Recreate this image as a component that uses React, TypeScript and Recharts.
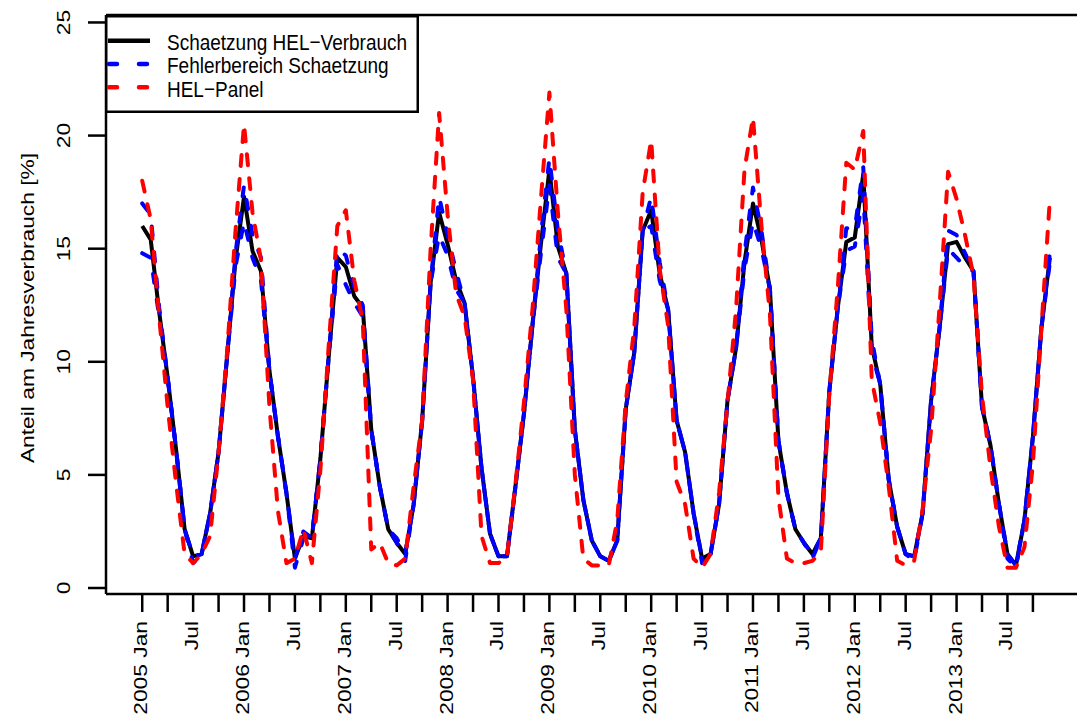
import React from "react";
import { LineChart, Line, XAxis, YAxis, ReferenceLine, Legend } from "recharts";

// Monthly shares of the annual consumption, Jan 2005 .. Dec 2013
const estimate = [
  16.0, 15.4, 12.2, 9.3, 6.1, 2.6, 1.4, 1.5, 3.3, 6.0, 10.2, 14.5,
  17.3, 14.9, 14.0, 9.6, 6.7, 4.2, 1.3, 2.3, 2.2, 5.7, 10.3, 14.6,
  14.2, 12.9, 12.4, 7.0, 4.5, 2.6, 2.0, 1.5, 3.7, 7.4, 13.5, 16.6,
  15.2, 13.6, 12.6, 9.3, 5.3, 2.4, 1.4, 1.4, 4.5, 7.7, 11.6, 15.2,
  18.5, 15.1, 13.9, 7.0, 3.9, 2.1, 1.4, 1.2, 2.1, 7.9, 10.4, 15.8,
  16.7, 13.9, 12.3, 7.4, 6.0, 3.3, 1.3, 1.5, 3.7, 8.3, 10.6, 14.4,
  17.0, 15.4, 13.2, 6.5, 4.2, 2.6, 2.0, 1.5, 2.2, 8.7, 12.4, 15.3,
  15.5, 18.3, 10.7, 9.0, 4.8, 2.7, 1.5, 1.4, 3.3, 8.3, 11.5, 15.2,
  15.3, 14.6, 14.0, 8.0, 6.3, 3.7, 1.5, 1.0, 3.0, 6.7, 11.5, 14.6,
];

const upperBound = [
  17.0, 16.5, 12.4, 9.3, 6.1, 2.6, 1.4, 1.5, 3.3, 6.0, 10.2, 14.8,
  17.8, 15.6, 14.6, 9.6, 6.7, 4.2, 1.3, 2.5, 2.2, 5.7, 10.3, 15.0,
  14.7, 13.3, 12.5, 7.0, 4.5, 2.6, 2.2, 1.5, 3.7, 7.4, 13.5, 17.3,
  15.6, 14.0, 12.6, 9.3, 5.3, 2.4, 1.4, 1.4, 4.5, 7.7, 11.6, 15.6,
  19.0, 15.8, 13.9, 7.0, 3.9, 2.1, 1.4, 1.2, 2.1, 7.9, 10.4, 15.8,
  17.3, 14.4, 12.3, 7.4, 6.0, 3.3, 1.3, 1.5, 3.7, 8.3, 10.6, 14.8,
  17.7, 15.8, 13.2, 6.5, 4.2, 2.6, 2.0, 1.5, 2.2, 8.7, 12.4, 15.9,
  15.9, 18.6, 11.0, 9.0, 4.8, 2.7, 1.5, 1.4, 3.3, 8.3, 11.5, 15.8,
  15.6, 14.8, 14.0, 8.0, 6.3, 3.7, 1.5, 1.0, 3.0, 6.7, 11.5, 14.8,
];

const lowerBound = [
  14.8, 14.6, 12.0, 9.3, 6.1, 2.6, 1.1, 1.5, 3.3, 6.0, 10.2, 14.2,
  16.2, 14.6, 13.6, 9.6, 6.7, 4.2, 0.9, 2.2, 2.2, 5.7, 10.3, 14.3,
  13.4, 12.6, 12.0, 7.0, 4.5, 2.6, 2.0, 1.2, 3.7, 7.4, 13.5, 15.6,
  14.7, 13.2, 12.6, 9.3, 5.3, 2.4, 1.4, 1.4, 4.5, 7.7, 11.6, 14.8,
  17.8, 14.6, 13.9, 7.0, 3.9, 2.1, 1.4, 1.2, 2.1, 7.9, 10.4, 15.8,
  16.0, 13.6, 12.3, 7.4, 6.0, 3.3, 1.1, 1.5, 3.7, 8.3, 10.6, 14.1,
  16.2, 15.0, 13.2, 6.5, 4.2, 2.6, 2.0, 1.3, 2.2, 8.7, 12.4, 14.9,
  15.1, 17.4, 10.4, 9.0, 4.8, 2.7, 1.5, 1.2, 3.3, 8.3, 11.5, 15.0,
  14.6, 14.2, 14.0, 8.0, 6.3, 3.7, 1.3, 0.9, 3.0, 6.7, 11.5, 14.4,
];

const panel = [
  18.0, 16.3, 12.0, 8.0, 4.6, 1.5, 1.1, 1.5, 2.3, 6.0, 10.4, 15.8,
  20.5, 16.6, 14.5, 8.0, 3.4, 1.1, 1.3, 2.6, 1.1, 5.2, 10.8, 16.0,
  16.7, 13.6, 11.8, 1.7, 2.0, 1.1, 1.0, 1.3, 4.5, 7.4, 15.0, 21.0,
  16.5, 13.0, 12.0, 9.2, 2.3, 1.1, 1.1, 1.4, 4.6, 8.2, 12.3, 17.2,
  21.9, 16.6, 12.3, 5.0, 1.3, 1.0, 1.0, 1.0, 3.0, 8.2, 11.5, 17.5,
  19.8, 14.1, 11.6, 4.7, 3.7, 1.3, 0.9, 1.5, 4.2, 8.2, 12.3, 18.5,
  20.8, 16.0, 12.1, 4.0, 1.3, 1.1, 1.1, 1.2, 1.6, 8.6, 13.3, 18.8,
  18.5, 20.2, 9.2, 7.3, 4.5, 1.2, 1.0, 1.2, 3.5, 7.0, 12.5, 18.4,
  17.2, 15.6, 13.8, 8.5, 5.3, 2.7, 0.9, 0.9, 1.8, 5.5, 11.5, 17.2,
];

// quarterly ticks (month index since Jan 2005)
const xTicks = [
  0, 3, 6, 9, 12, 15, 18, 21, 24, 27, 30, 33, 36, 39, 42, 45, 48, 51,
  54, 57, 60, 63, 66, 69, 72, 75, 78, 81, 84, 87, 90, 93, 96, 99, 102, 105,
];
const xTickLabels = [
  "2005 Jan", "", "Jul", "", "2006 Jan", "", "Jul", "", "2007 Jan", "", "Jul", "",
  "2008 Jan", "", "Jul", "", "2009 Jan", "", "Jul", "", "2010 Jan", "", "Jul", "",
  "2011 Jan", "", "Jul", "", "2012 Jan", "", "Jul", "", "2013 Jan", "", "Jul", "",
];
const yTicks = [0, 5, 10, 15, 20, 25];

const X_MIN = -4.27;
const X_MAX = 111.14;
const Y_MIN = -0.265;
const Y_MAX = 25.33;

const FONT = "'Liberation Sans', Arial, Helvetica, sans-serif";
const FS = 19;
const STRETCH = 1.2;

const data = estimate.map((v, i) => ({
  t: i,
  est: v,
  up: upperBound[i],
  lo: lowerBound[i],
  panel: panel[i],
}));

function XTick(props: any) {
  const { x, payload } = props;
  const idx = xTicks.indexOf(payload.value);
  const label = idx >= 0 ? xTickLabels[idx] : "";
  if (!label) return null;
  return (
    <text
      transform={`translate(${x + 5},621) scale(1,${STRETCH}) rotate(-90)`}
      textAnchor="end"
      fontSize={FS}
      fontFamily={FONT}
      fill="#000"
    >
      {label}
    </text>
  );
}

function YTick(props: any) {
  const { y, payload } = props;
  return (
    <text
      transform={`translate(70,${y}) scale(1,${STRETCH}) rotate(-90)`}
      textAnchor="middle"
      fontSize={FS}
      fontFamily={FONT}
      fill="#000"
    >
      {payload.value}
    </text>
  );
}

function YLabel() {
  return (
    <text
      transform={`translate(34,308) scale(1,${STRETCH}) rotate(-90)`}
      textAnchor="middle"
      fontSize={FS}
      fontFamily={FONT}
      fill="#000"
    >
      Anteil am Jahresverbrauch [%]
    </text>
  );
}

const legendRows = [
  { label: "Schaetzung HEL−Verbrauch", color: "#000000", dashed: false },
  { label: "Fehlerbereich Schaetzung", color: "#0000ff", dashed: true },
  { label: "HEL−Panel", color: "#ff0000", dashed: true },
];

function LegendBox() {
  return (
    <svg width={314} height={98} style={{ display: "block" }}>
      <rect x={1.25} y={1.25} width={311.5} height={95.5} fill="#fff" stroke="#000" strokeWidth={2.5} />
      {legendRows.map((r, i) => {
        const ly = 25.7 + i * 23.3;
        const ty = 35 + i * 23.3;
        return (
          <g key={r.label}>
            <line
              x1={r.dashed ? 4 : 3}
              x2={r.dashed ? 46 : 45}
              y1={ly}
              y2={ly}
              stroke={r.color}
              strokeWidth={4.5}
              strokeDasharray={r.dashed ? "8 22" : undefined}
              strokeLinecap={r.dashed ? "round" : "butt"}
            />
            <text
              transform={`translate(62,${ty}) scale(1,${STRETCH})`}
              fontSize={FS}
              fontFamily={FONT}
              fill="#000"
            >
              {r.label}
            </text>
          </g>
        );
      })}
    </svg>
  );
}

export default function App() {
  return (
    <div
      style={{
        position: "absolute",
        left: 0,
        top: 0,
        width: 1077,
        height: 722,
        overflow: "hidden",
        background: "#fff",
      }}
    >
      <LineChart
        width={1090}
        height={722}
        data={data}
        margin={{ top: 15, right: 5, bottom: 0, left: 46 }}
        style={{ fontFamily: FONT }}
      >
        <XAxis
          dataKey="t"
          type="number"
          domain={[X_MIN, X_MAX]}
          ticks={xTicks}
          interval={0}
          allowDataOverflow
          height={128}
          tickSize={18}
          axisLine={{ stroke: "#000", strokeWidth: 2.5 }}
          tickLine={{ stroke: "#000", strokeWidth: 2.5 }}
          tick={<XTick />}
        />
        <YAxis
          type="number"
          domain={[Y_MIN, Y_MAX]}
          ticks={yTicks}
          interval={0}
          allowDataOverflow
          width={60}
          tickSize={18}
          axisLine={{ stroke: "#000", strokeWidth: 2.5 }}
          tickLine={{ stroke: "#000", strokeWidth: 2.5 }}
          tick={<YTick />}
          label={<YLabel />}
        />
        <ReferenceLine y={Y_MAX} stroke="#000" strokeWidth={2.5} />
        <Line
          dataKey="est"
          type="linear"
          stroke="#000000"
          strokeWidth={4}
          strokeLinejoin="round"
          dot={false}
          activeDot={false}
          isAnimationActive={false}
        />
        <Line
          dataKey="up"
          type="linear"
          stroke="#0000ff"
          strokeWidth={4}
          strokeDasharray="9 17"
          strokeLinecap="round"
          strokeLinejoin="round"
          dot={false}
          activeDot={false}
          isAnimationActive={false}
        />
        <Line
          dataKey="lo"
          type="linear"
          stroke="#0000ff"
          strokeWidth={4}
          strokeDasharray="9 17"
          strokeLinecap="round"
          strokeLinejoin="round"
          dot={false}
          activeDot={false}
          isAnimationActive={false}
        />
        <Line
          dataKey="panel"
          type="linear"
          stroke="#ff0000"
          strokeWidth={4}
          strokeDasharray="11 13"
          strokeLinecap="round"
          strokeLinejoin="round"
          dot={false}
          activeDot={false}
          isAnimationActive={false}
        />
        <Legend
          layout="vertical"
          align="center"
          verticalAlign="middle"
          wrapperStyle={{ left: 105, top: 15, width: 314, height: 98 }}
          content={() => <LegendBox />}
        />
      </LineChart>
    </div>
  );
}
